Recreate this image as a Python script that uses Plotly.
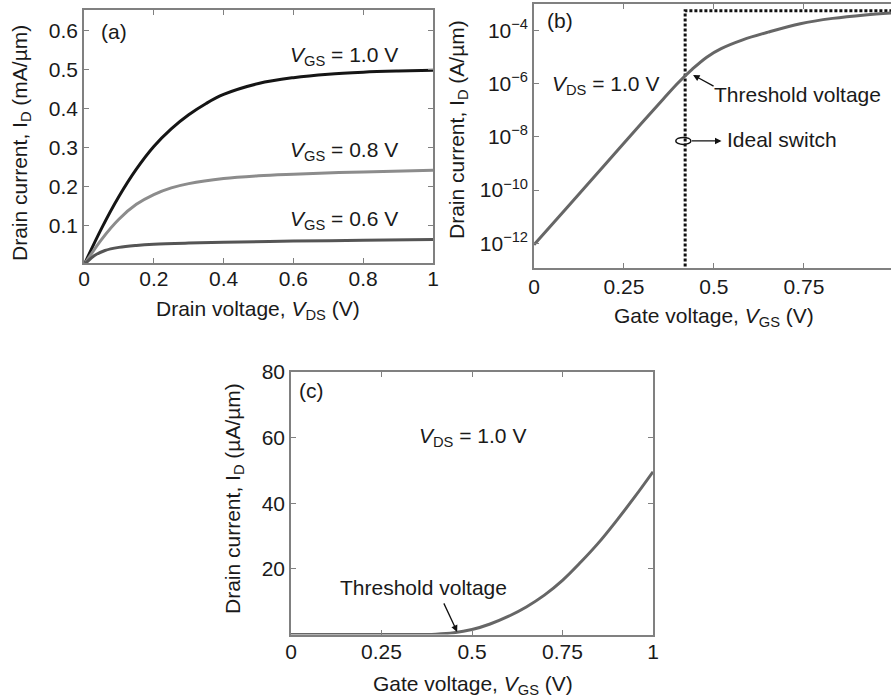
import plotly.graph_objects as go

W, H = 891, 700
FONT = "Liberation Sans, Arial, Helvetica, sans-serif"
TXT = "#1a1a1a"
AX = "#808080"

# ---------- Panel (a): output characteristics ----------
vds_10 = [0, 0.05, 0.1, 0.15, 0.2, 0.25, 0.3, 0.35, 0.4, 0.5, 0.6, 0.7, 0.8, 0.9, 1.0]
id_vgs10 = [0, 0.093, 0.175, 0.245, 0.303, 0.348, 0.384, 0.413, 0.436, 0.464, 0.479, 0.488, 0.493, 0.496, 0.498]
vds_08 = [0, 0.05, 0.1, 0.15, 0.2, 0.25, 0.3, 0.4, 0.5, 0.6, 0.8, 1.0]
id_vgs08 = [0, 0.065, 0.117, 0.155, 0.18, 0.197, 0.208, 0.221, 0.228, 0.232, 0.238, 0.242]
vds_06 = [0, 0.03, 0.06, 0.1, 0.15, 0.2, 0.3, 0.4, 0.6, 0.8, 1.0]
id_vgs06 = [0, 0.024, 0.037, 0.045, 0.05, 0.053, 0.056, 0.058, 0.061, 0.063, 0.065]
a_xticks = [0, 0.2, 0.4, 0.6, 0.8, 1]
a_xlabels = ["0", "0.2", "0.4", "0.6", "0.8", "1"]
a_yticks = [0.1, 0.2, 0.3, 0.4, 0.5, 0.6]
a_ylabels = ["0.1", "0.2", "0.3", "0.4", "0.5", "0.6"]

# ---------- Panel (b): transfer characteristic, log scale ----------
vgs_b = [0, 0.1, 0.2, 0.3, 0.36, 0.4, 0.44, 0.48, 0.52, 0.58, 0.65, 0.74, 0.83, 0.92, 1.0]
id_b = [8.71e-13, 2.95e-11, 1.0e-9, 3.39e-8, 2.75e-7, 1.07e-6, 3.55e-6, 1.0e-5,
        2.09e-5, 4.47e-5, 8.71e-5, 1.82e-4, 2.88e-4, 3.89e-4, 4.68e-4]
ideal_x = [0.42, 0.42, 1.0]
ideal_y = [1e-14, 5.6e-4, 5.6e-4]
b_xticks = [0, 0.25, 0.5, 0.75, 1]
b_xlabels = ["0", "0.25", "0.5", "0.75", "1"]
b_yticks = [1e-12, 1e-10, 1e-8, 1e-6, 1e-4]
b_ylabels = ["10<sup>−12</sup>", "10<sup>−10</sup>", "10<sup>−8</sup>",
             "10<sup>−6</sup>", "10<sup>−4</sup>"]

# ---------- Panel (c): transfer characteristic, linear scale ----------
vgs_c = [0, 0.3, 0.4, 0.45, 0.5, 0.55, 0.6, 0.65, 0.7, 0.75, 0.8, 0.85, 0.9, 0.95, 1.0]
id_c = [0, 0, 0.1, 0.5, 1.5, 3.2, 5.5, 8.4, 12.0, 16.5, 22.0, 28.0, 34.8, 42.0, 49.6]
c_xticks = [0, 0.25, 0.5, 0.75, 1]
c_xlabels = ["0", "0.25", "0.5", "0.75", "1"]
c_yticks = [20, 40, 60, 80]
c_ylabels = ["20", "40", "60", "80"]


def px(x):
    return x / W


def py(y):
    return 1 - y / H


fig = go.Figure()

fig.add_trace(go.Scatter(x=vds_10, y=id_vgs10, mode="lines", line=dict(color="#151515", width=3, shape="spline"),
                         xaxis="x", yaxis="y", showlegend=False))
fig.add_trace(go.Scatter(x=vds_08, y=id_vgs08, mode="lines", line=dict(color="#8c8c8c", width=3, shape="spline"),
                         xaxis="x", yaxis="y", showlegend=False))
fig.add_trace(go.Scatter(x=vds_06, y=id_vgs06, mode="lines", line=dict(color="#555555", width=3, shape="spline"),
                         xaxis="x", yaxis="y", showlegend=False))

fig.add_trace(go.Scatter(x=ideal_x, y=ideal_y, mode="lines", line=dict(color="#111111", width=3, dash="3px,2px"),
                         xaxis="x2", yaxis="y2", showlegend=False))
fig.add_trace(go.Scatter(x=vgs_b, y=id_b, mode="lines", line=dict(color="#666666", width=3, shape="spline"),
                         xaxis="x2", yaxis="y2", showlegend=False))

fig.add_trace(go.Scatter(x=vgs_c, y=id_c, mode="lines", line=dict(color="#666666", width=3, shape="spline"),
                         xaxis="x3", yaxis="y3", showlegend=False))


def axis_style(**kw):
    d = dict(showline=True, linecolor=AX, linewidth=1.5, mirror="allticks", ticks="inside",
             ticklen=5, tickcolor=AX, tickwidth=1, showgrid=False, zeroline=False,
             tickfont=dict(family=FONT, size=21, color=TXT), tickmode="array")
    d.update(kw)
    return d


fig.update_layout(
    width=W, height=H,
    margin=dict(l=0, r=0, t=0, b=0, autoexpand=False),
    paper_bgcolor="white", plot_bgcolor="white",
    font=dict(family=FONT, size=21, color=TXT),
    xaxis=axis_style(domain=[px(84), px(433)], range=[0, 1], anchor="y",
                     tickvals=a_xticks, ticktext=a_xlabels, ticklabelstandoff=-4),
    yaxis=axis_style(domain=[py(263), py(10)], range=[0.005, 0.652], anchor="x",
                     tickvals=a_yticks, ticktext=a_ylabels),
    xaxis2=axis_style(domain=[px(534), 1.0], range=[0, 0.992], anchor="y2",
                      tickvals=b_xticks, ticktext=b_xlabels, ticklabelstandoff=-1),
    yaxis2=axis_style(domain=[py(268), py(4)], type="log", range=[-12.93, -3.0], anchor="x2",
                      tickvals=b_yticks, ticktext=b_ylabels, mirror=False),
    xaxis3=axis_style(domain=[px(291), px(653)], range=[0, 1], anchor="y3",
                      tickvals=c_xticks, ticktext=c_xlabels, ticklabelstandoff=-2),
    yaxis3=axis_style(domain=[py(634.5), py(372)], range=[0, 80], anchor="x3",
                      tickvals=c_yticks, ticktext=c_ylabels),
)

ann = []


def label(text, x, y, xanchor="left", yanchor="middle", angle=0, size=21):
    ann.append(dict(text=text, x=px(x), y=py(y), xref="paper", yref="paper", showarrow=False,
                    xanchor=xanchor, yanchor=yanchor, textangle=angle,
                    font=dict(family=FONT, size=size, color=TXT)))


# axis titles
label("Drain voltage, <i>V</i><sub>DS</sub> (V)", 258, 310, xanchor="center")
label("Drain current, I<sub>D</sub> (mA/µm)", 21, 143, xanchor="center", angle=-90)
label("Gate voltage, <i>V</i><sub>GS</sub> (V)", 714, 317, xanchor="center")
label("Drain current, I<sub>D</sub> (A/µm)", 458, 130, xanchor="center", angle=-90)
label("Gate voltage, <i>V</i><sub>GS</sub> (V)", 473, 685, xanchor="center")
label("Drain current, I<sub>D</sub> (µA/µm)", 234, 499, xanchor="center", angle=-90)

# panel (a) text
label("(a)", 99, 32)
label("<i>V</i><sub>GS</sub> = 1.0 V", 288, 56)
label("<i>V</i><sub>GS</sub> = 0.8 V", 288, 151)
label("<i>V</i><sub>GS</sub> = 0.6 V", 288, 220)

# panel (b) text
label("(b)", 545, 20)
label("<i>V</i><sub>DS</sub> = 1.0 V", 550, 85)
label("Threshold voltage", 712, 94)
label("Ideal switch", 725, 140)

# panel (c) text
label("(c)", 297, 390)
label("<i>V</i><sub>DS</sub> = 1.0 V", 417, 437)
label("Threshold voltage", 338, 587)

# arrows
ann.append(dict(x=0.442, y=-5.67, xref="x2", yref="y2", text="", showarrow=True,
                ax=22, ay=12, arrowhead=2, arrowsize=1, arrowwidth=1.3, arrowcolor="#111"))
ann.append(dict(x=0.521, y=-8.15, xref="x2", yref="y2", text="", showarrow=True,
                ax=-31, ay=0, arrowhead=2, arrowsize=1, arrowwidth=1.3, arrowcolor="#111"))
ann.append(dict(x=0.459, y=0.8, xref="x3", yref="y3", text="", showarrow=True,
                ax=-14, ay=-30, arrowhead=2, arrowsize=1, arrowwidth=1.3, arrowcolor="#111"))

fig.update_layout(annotations=ann)

# small ellipse marking the ideal-switch line
fig.add_shape(type="circle", xref="x2", yref="y2", x0=0.394, x1=0.436, y0=5.2e-9, y1=9.6e-9,
              line=dict(color="#111", width=1.5))

fig.write_html("out.html", config={"displayModeBar": False},
               post_script="document.body.style.margin='0';document.body.style.overflow='hidden';")
